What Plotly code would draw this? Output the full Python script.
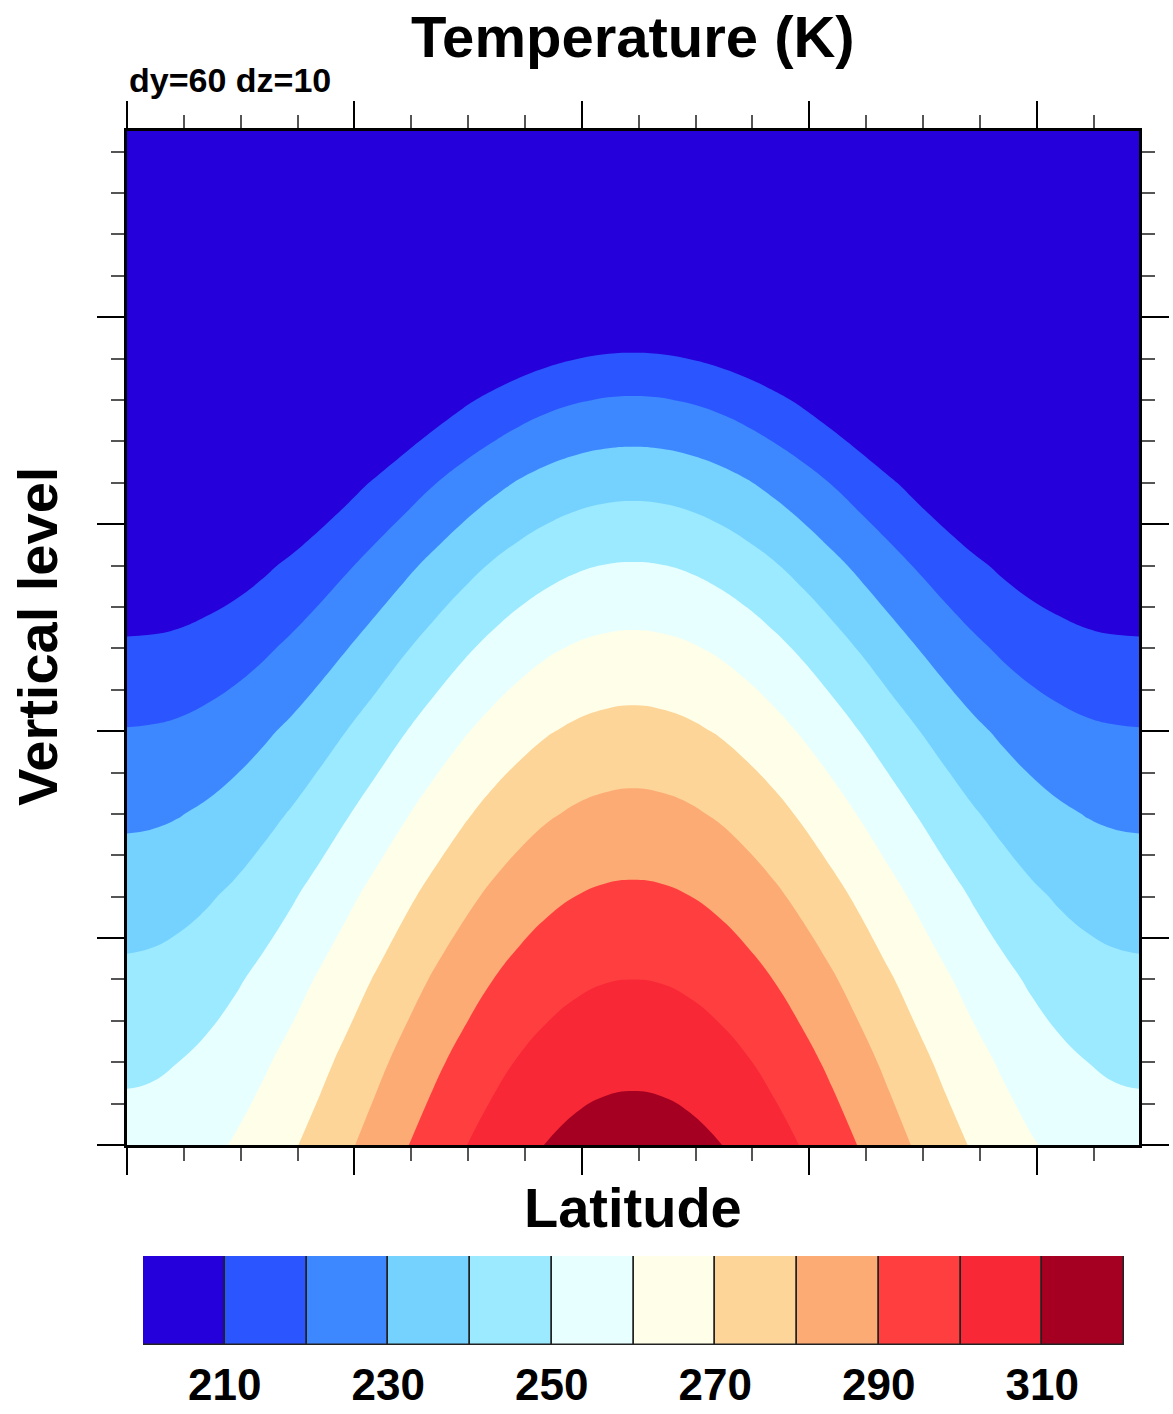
import plotly.graph_objects as go

# ---------------- data ----------------
lat_half = [0, 5, 10, 15, 20, 25, 30, 35, 40, 45, 50, 55, 60, 65, 70, 75, 80, 85, 90]  # deg from equator
levels_z = [0, 4, 8, 12, 16, 20, 24, 28, 32, 36, 40, 44, 49]                          # vertical level index

# temperature (K): one row per vertical level, columns = latitude 0..90
temp_half = [
    [314.5, 314.0, 312.7, 310.4, 307.4, 303.6, 299.3, 294.5, 289.4, 284.1, 278.8, 273.7, 268.9, 264.6, 260.8, 257.8, 255.5, 254.2, 253.7],
    [307.6, 307.2, 305.8, 303.6, 300.7, 297.0, 292.8, 288.1, 283.1, 277.9, 272.7, 267.7, 263.0, 258.8, 255.1, 252.1, 250.0, 248.6, 248.2],
    [300.0, 299.6, 298.3, 296.2, 293.3, 289.7, 285.5, 281.0, 276.1, 271.0, 266.0, 261.1, 256.5, 252.4, 248.8, 245.9, 243.8, 242.5, 242.0],
    [291.8, 291.4, 290.1, 288.0, 285.1, 281.6, 277.5, 273.0, 268.2, 263.2, 258.3, 253.6, 249.1, 245.2, 241.7, 239.0, 237.0, 235.8, 235.4],
    [283.0, 282.5, 281.2, 279.1, 276.2, 272.7, 268.6, 264.1, 259.3, 254.5, 249.7, 245.1, 240.8, 237.1, 233.9, 231.4, 229.6, 228.6, 228.3],
    [273.3, 272.8, 271.5, 269.4, 266.5, 263.0, 258.9, 254.5, 249.8, 245.1, 240.4, 236.0, 231.9, 228.4, 225.4, 223.1, 221.5, 220.7, 220.4],
    [262.7, 262.2, 260.9, 258.8, 255.9, 252.3, 248.3, 243.9, 239.3, 234.6, 230.1, 225.8, 221.9, 218.5, 215.7, 213.7, 212.2, 211.5, 211.3],
    [250.6, 250.2, 248.9, 246.8, 244.0, 240.6, 236.7, 232.4, 228.0, 223.6, 219.2, 215.2, 211.6, 208.5, 206.0, 204.2, 202.9, 202.3, 202.2],
    [237.0, 236.6, 235.4, 233.4, 230.7, 227.4, 223.7, 219.6, 215.4, 211.2, 207.1, 203.3, 199.9, 197.0, 194.7, 193.0, 191.9, 191.3, 191.2],
    [220.9, 220.5, 219.3, 217.5, 215.0, 211.9, 208.4, 204.6, 200.7, 196.8, 193.0, 189.4, 186.3, 183.6, 181.4, 179.8, 178.8, 178.3, 178.2],
    [201.8, 201.5, 200.4, 198.7, 196.4, 193.6, 190.4, 187.0, 183.4, 179.8, 176.3, 173.1, 170.2, 167.8, 165.8, 164.3, 163.4, 162.9, 162.8],
    [182.6, 182.3, 181.4, 179.8, 177.7, 175.2, 172.3, 169.2, 166.0, 162.7, 159.6, 156.6, 154.0, 151.8, 150.0, 148.7, 147.9, 147.4, 147.3],
    [158.6, 158.4, 157.5, 156.2, 154.4, 152.2, 149.7, 147.0, 144.1, 141.3, 138.6, 136.0, 133.8, 131.9, 130.3, 129.2, 128.4, 128.1, 128.0],
]

contour_levels = [210, 220, 230, 240, 250, 260, 270, 280, 290, 300, 310]
band_colors = [
    "#2600DA", "#2B55FF", "#3E88FF", "#75D2FF", "#9CEAFF", "#E8FFFF",
    "#FFFEE8", "#FDD598", "#FDAB74", "#FF3F3F", "#F82837", "#A50022",
]
cbar_labels = ["210", "230", "250", "270", "290", "310"]

title_text = "Temperature (K)"
left_text = "dy=60 dz=10"
x_title = "Latitude"
y_title = "Vertical level"

# ---------------- build the full symmetric grid ----------------
lat = [-v for v in lat_half[:0:-1]] + lat_half
temp = [row[:0:-1] + row for row in temp_half]

nb = len(band_colors)
colorscale = [[k / (nb - 1), c] for k, c in enumerate(band_colors)]

FONT = "Liberation Sans"

fig = go.Figure()
fig.add_trace(go.Contour(
    x=lat, y=levels_z, z=temp,
    colorscale=colorscale,
    contours=dict(start=contour_levels[0], end=contour_levels[-1],
                  size=contour_levels[1] - contour_levels[0],
                  coloring="fill", showlines=False),
    line=dict(width=0, smoothing=1.3),
    showscale=False, hoverinfo="skip",
    xaxis="x", yaxis="y",
))

band_index = list(range(nb))
fig.add_trace(go.Bar(
    x=band_index, y=[1] * nb, width=1,
    marker=dict(color=band_colors, line=dict(color="#222222", width=1.5)),
    xaxis="x2", yaxis="y2", cliponaxis=False, hoverinfo="skip",
))

tick_pos = [i + 0.5 for i in range(0, len(contour_levels), 2)]

W, H = 1173, 1414
L, R = 127, 34
PW = W - L - R


def px_x(x):
    return (x - L) / PW


def px_y(y):
    return 1 - y / H


fig.update_layout(
    width=W, height=H,
    margin=dict(l=L, r=R, t=0, b=0, autoexpand=False),
    paper_bgcolor="white", plot_bgcolor="white",
    showlegend=False, bargap=0,
    xaxis=dict(
        domain=[0, 1], range=[-89, 89], tick0=-89, dtick=40,
        ticks="outside", ticklen=27, tickwidth=2, tickcolor="black",
        showticklabels=False, showline=True, linecolor="black", linewidth=2.5,
        mirror="allticks", showgrid=False, zeroline=False, anchor="y", automargin=False,
        minor=dict(ticks="outside", ticklen=13, tickwidth=1.5, tickcolor="#555555",
                   tick0=-89, dtick=10, showgrid=False),
    ),
    yaxis=dict(
        domain=[px_y(1145), px_y(131)], range=[0, 49], tick0=0, dtick=10,
        ticks="outside", ticklen=27, tickwidth=2, tickcolor="black",
        showticklabels=False, showline=True, linecolor="black", linewidth=2.5,
        mirror="allticks", showgrid=False, zeroline=False, anchor="x", automargin=False,
        minor=dict(ticks="outside", ticklen=13, tickwidth=1.5, tickcolor="#555555",
                   tick0=0, dtick=2, showgrid=False),
    ),
    xaxis2=dict(
        domain=[px_x(143), px_x(1124)], range=[-0.5, nb - 0.5], anchor="y2",
        tickmode="array", tickvals=tick_pos, ticktext=cbar_labels,
        ticks="", showline=False, showgrid=False, zeroline=False, automargin=False,
        tickfont=dict(size=44, family=FONT, weight="bold", color="black"),
        ticklabelstandoff=10,
    ),
    yaxis2=dict(domain=[px_y(1345), px_y(1256)], range=[0, 1], anchor="x2",
                visible=False, automargin=False),
    annotations=[
        dict(text="<b>%s</b>" % title_text, x=0.5, y=px_y(37), xref="paper", yref="paper",
             xanchor="center", yanchor="middle", showarrow=False,
             font=dict(size=58, family=FONT, color="black")),
        dict(text="<b>%s</b>" % left_text, x=0, y=px_y(80), xref="paper", yref="paper",
             xanchor="left", yanchor="middle", showarrow=False,
             font=dict(size=34, family=FONT, color="black")),
        dict(text="<b>%s</b>" % x_title, x=0.5, y=px_y(1207), xref="paper", yref="paper",
             xanchor="center", yanchor="middle", showarrow=False,
             font=dict(size=56, family=FONT, color="black")),
        dict(text="<b>%s</b>" % y_title, x=px_x(38), y=px_y(637), xref="paper", yref="paper",
             xanchor="center", yanchor="middle", showarrow=False, textangle=-90,
             font=dict(size=56, family=FONT, color="black")),
    ],
)

fig.write_html("out.html")
